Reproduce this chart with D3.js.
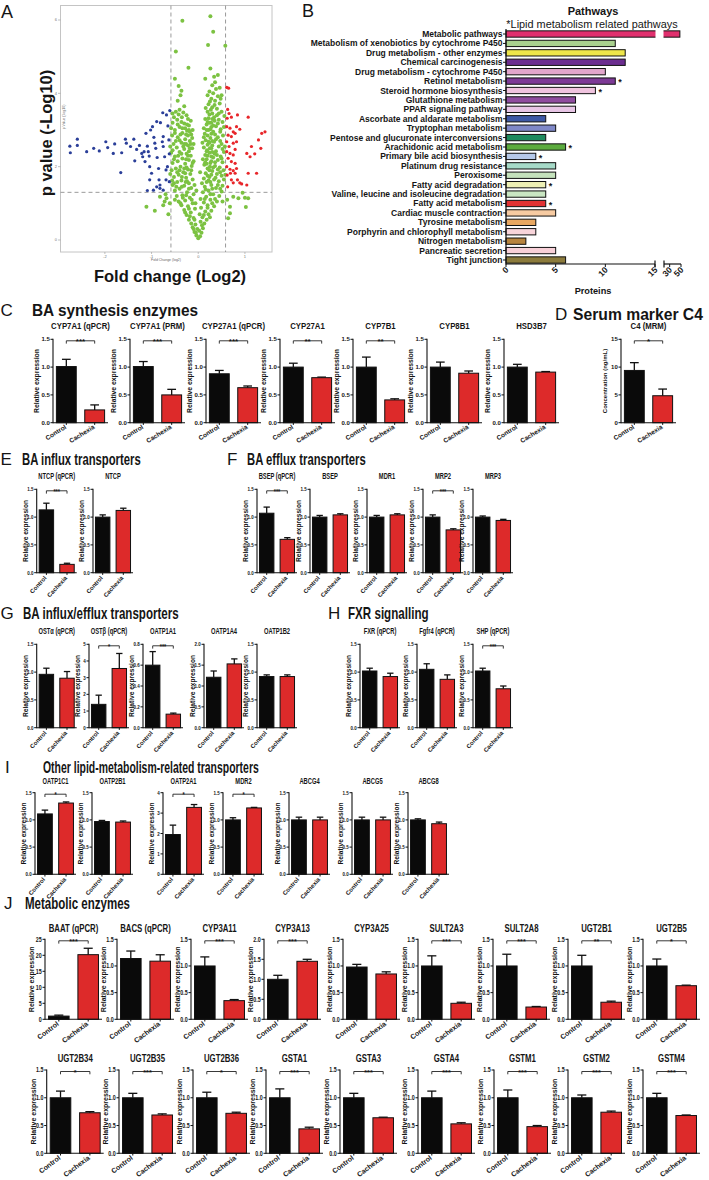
<!DOCTYPE html>
<html><head><meta charset="utf-8">
<script src="https://cdn.jsdelivr.net/npm/d3@7/dist/d3.min.js"></script>
<style>body{margin:0;background:#fff}svg{display:block}text{font-family:"Liberation Sans",Arial,Helvetica,sans-serif;fill:#151515}</style>
</head><body><svg id="fig" width="709" height="1180"></svg>
<script>
// ---------------- DATA ----------------
// Panel A volcano: [log2 fold change, -log10 p]
const volcanoXTicks = [-2, -1, 0, 1];
const volcanoYTicks = [0, 2, 4, 6];
const volcanoBlue = [[-2.75,2.56],[-2.74,2.38],[-2.59,2.75],[-2.59,2.58],[-2.39,2.41],[-2.24,2.5],[-2.12,2.43],[-1.98,2.68],[-1.94,2.52],[-1.79,2.62],[-1.82,2.36],[-1.64,2.38],[-1.66,1.84],[-1.56,2.75],[-1.54,2.64],[-1.45,2.55],[-1.38,2.75],[-1.36,2.16],[-1.32,2.47],[-1.26,2.58],[-1.21,2.36],[-1.19,2.27],[-1.14,2.14],[-1.12,2.91],[-1.09,2.56],[-1.07,2.41],[-1.05,2.29],[-1.04,2.0],[-1.0,1.82],[-0.98,3.09],[-0.95,2.8],[-0.93,2.64],[-0.91,2.5],[-0.88,2.25],[-0.85,1.95],[-0.84,1.64],[-0.82,1.5],[-0.81,3.2],[-0.77,2.68],[-0.75,2.55],[-0.72,2.27],[-0.69,1.91],[-0.68,3.41],[-0.65,3.11],[-0.63,2.73],[-0.62,2.35],[-0.66,2.0],[-0.69,1.64],[-0.75,1.36],[-0.82,1.41],[-0.89,1.45],[-0.96,1.36],[-1.04,1.64],[-1.09,1.35],[-0.76,3.47],[-0.61,3.53],[-0.62,1.59],[-1.02,3.0],[-1.16,2.41],[-0.89,3.23],[-0.75,2.82]];
const volcanoRed = [[0.61,4.16],[0.65,4.14],[0.63,3.56],[0.66,3.45],[0.62,3.32],[0.71,3.35],[0.84,3.41],[1.07,3.35],[0.61,3.09],[0.68,3.05],[0.75,2.95],[0.82,3.09],[0.89,3.02],[0.64,2.86],[0.71,2.82],[0.79,2.91],[0.61,2.68],[0.66,2.55],[0.75,2.64],[0.82,2.68],[0.61,2.41],[0.68,2.36],[0.75,2.32],[0.79,2.47],[0.64,2.23],[0.71,2.14],[0.79,2.09],[0.61,2.0],[0.68,1.93],[0.75,1.89],[0.82,1.95],[0.62,1.77],[0.69,1.82],[0.79,1.82],[0.84,1.64],[0.89,1.56],[1.04,2.36],[1.11,2.27],[1.07,1.82],[1.14,2.55],[1.25,1.82],[1.04,1.5],[0.93,1.53],[0.63,1.45],[0.71,1.64],[0.75,1.56],[1.21,2.35],[1.29,2.73],[1.36,2.91],[1.34,2.5],[1.43,2.95]];
const volcanoGreen = [[0,0.05],[-0.04,0.12],[0.04,0.1],[-0.08,0.22],[0.07,0.2],[-0.02,0.3],[0.1,0.32],[-0.12,0.35],[-0.15,0.45],[0.13,0.45],[-0.06,0.42],[0.05,0.5],[-0.2,0.55],[0.18,0.55],[-0.1,0.6],[0.09,0.62],[-0.25,0.68],[0.22,0.7],[-0.16,0.75],[0.15,0.78],[-0.3,0.82],[0.28,0.8],[-0.07,0.85],[0.06,0.88],[-0.22,0.92],[0.2,0.95],[-0.36,0.95],[0.34,0.92],[-0.12,1.0],[0.12,1.02],[-0.42,1.05],[0.4,1.05],[-0.28,1.08],[0.26,1.1],[-0.18,1.15],[0.17,1.18],[-0.46,1.2],[0.45,1.2],[-0.34,1.22],[0.32,1.25],[-0.1,1.25],[0.1,1.3],[-0.24,1.3],[0.22,1.35],[-0.5,1.35],[0.5,1.32],[-0.4,1.4],[0.38,1.42],[-0.15,1.42],[0.14,1.45],[-0.3,1.48],[0.28,1.5],[-0.55,1.5],[0.52,1.48],[-0.2,1.55],[0.18,1.58],[-0.45,1.58],[0.44,1.6],[-0.36,1.62],[0.34,1.65],[-0.12,1.65],[0.12,1.68],[-0.26,1.7],[0.24,1.72],[-0.52,1.72],[0.5,1.75],[-0.42,1.78],[0.4,1.8],[-0.17,1.8],[0.16,1.82],[-0.32,1.85],[0.3,1.88],[-0.57,1.9],[0.54,1.9],[-0.22,1.92],[0.2,1.95],[-0.48,1.95],[0.46,1.98],[-0.38,2.0],[0.36,2.02],[-0.14,2.02],[0.13,2.05],[-0.28,2.08],[0.26,2.1],[-0.55,2.1],[0.52,2.12],[-0.44,2.15],[0.42,2.18],[-0.2,2.18],[0.18,2.2],[-0.34,2.22],[0.32,2.25],[-0.5,2.28],[0.48,2.28],[-0.16,2.3],[0.15,2.32],[-0.25,2.35],[0.24,2.38],[-0.58,2.38],[0.55,2.4],[-0.4,2.4],[0.38,2.42],[-0.3,2.48],[0.28,2.5],[-0.13,2.5],[0.12,2.52],[-0.46,2.52],[0.44,2.55],[-0.22,2.58],[0.2,2.6],[-0.53,2.62],[0.5,2.62],[-0.36,2.65],[0.34,2.68],[-0.18,2.7],[0.16,2.72],[-0.28,2.75],[0.26,2.78],[-0.44,2.8],[0.42,2.8],[-0.56,2.85],[0.53,2.85],[-0.15,2.88],[0.14,2.9],[-0.34,2.92],[0.32,2.95],[-0.24,2.98],[0.22,3.0],[-0.5,3.0],[0.48,3.02],[-0.4,3.08],[0.38,3.1],[-0.2,3.12],[0.18,3.15],[-0.3,3.18],[0.28,3.2],[-0.55,3.2],[0.52,3.22],[-0.45,3.28],[0.44,3.28],[-0.35,3.35],[0.34,3.35],[-0.25,3.4],[0.24,3.42],[0.2,3.5],[-0.48,3.5],[0.5,3.5],[-0.4,3.55],[0.4,3.58],[0.3,3.62],[-0.3,3.65],[0.22,3.7],[0.46,3.72],[-0.55,3.45],[0.36,3.8],[0.28,3.85],[-0.44,3.8],[0.42,3.92],[0.32,4.0],[0.24,4.05],[0.38,4.12],[-0.38,3.95],[0.46,4.15],[0.3,4.22],[0.36,4.3],
[-0.08,0.55],[0.03,0.7],[-0.33,1.15],[0.36,1.12],[-0.47,1.45],[0.47,1.4],[-0.08,1.5],[0.08,1.55],[-0.35,1.72],[0.37,1.7],[-0.6,1.8],[0.58,1.78],[-0.25,1.98],[0.25,2.0],[-0.43,2.3],[0.4,2.32],[-0.1,2.15],[0.1,2.2],[-0.6,2.55],[0.57,2.55],[-0.32,2.55],[0.3,2.58],[-0.1,2.62],[0.09,2.65],[-0.48,2.7],[0.47,2.7],[-0.22,2.85],[0.2,2.85],[-0.38,2.88],[0.36,2.88],[-0.12,3.0],[0.12,3.05],[-0.58,3.05],[0.55,3.08],[-0.28,3.05],[0.28,3.08],[-0.44,3.15],[0.42,3.18],[-0.16,3.25],[0.15,3.3],[-0.52,3.35],[0.56,3.38],[-0.32,3.48],[0.3,3.45],[0.48,3.85],[0.2,3.95],[-0.5,1.1],[0.52,1.05],[-0.2,0.85],[0.2,0.88],[-0.26,1.22],[0.26,1.25],[-0.56,1.62],[0.55,1.65],[-0.4,1.9],[0.42,1.92],[-0.52,2.2],[0.5,2.22],[-0.2,2.42],[0.19,2.45],[-0.06,1.0],[0.05,1.12],[-0.04,1.35],[0.04,1.85],
[-0.05,0.2],[0.02,0.25],[-0.1,0.3],[0.08,0.4],[-0.18,0.65],[0.12,0.68],[-0.28,0.75],[0.25,0.62],[-0.38,1.0],[0.3,1.0],[-0.14,1.1],[0.14,1.12],[-0.52,1.55],[0.42,1.5],[-0.24,1.6],[0.22,1.62],[-0.45,1.85],[0.47,1.85],[-0.3,1.95],[0.32,1.98],[-0.12,2.1],[0.15,2.12],[-0.36,2.35],[0.35,2.35],[-0.55,2.45],[0.52,2.48],[-0.26,2.62],[0.24,2.65],[-0.4,2.72],[0.38,2.75],[-0.13,2.78],[0.12,2.8],[-0.5,2.92],[0.47,2.95],[-0.2,3.0],[0.26,3.02],[-0.36,3.22],[0.35,3.25],[-0.22,3.3],[0.22,3.32],[-0.42,3.42],[0.44,3.45],[0.27,3.55],[0.35,3.68],[0.16,3.6],[0.5,3.95],[0.25,3.78],[0.4,3.4],[0.18,2.42],[0.2,2.3],[0.28,2.28],[0.3,2.4],[0.25,2.5],[0.22,2.68],[0.3,2.7],[0.28,2.9],[0.18,3.0],[0.32,3.12],[0.24,3.2],[0.3,3.3],[0.2,3.22],[-0.18,2.5],[-0.22,2.3],[-0.26,2.2],[-0.16,2.62],[-0.3,2.62],[-0.26,2.88],[-0.18,2.95],[-0.34,3.05],[-0.24,3.15],[-0.15,1.9],[-0.28,1.82],[0.2,1.75],[0.28,1.78],[0.24,1.9],[0.18,2.08],[0.28,2.15],[0.36,2.12],[0.16,1.38],[0.3,1.4],[-0.2,1.4],[-0.35,1.45],[-0.27,1.58],[0.26,1.58],
[-0.34,5.98],[0.26,6.1],[0.32,5.68],[0.21,5.32],[-0.48,5.14],[-0.21,4.7],[0.58,5.3],[0.26,4.68],[-0.36,4.07],[-0.5,4.4],[0.34,4.45],[0.42,4.5],[-0.42,4.2],[0.15,4.4],
[-1.11,0.91],[-0.93,0.8],[-0.82,1.18],[-0.68,1.14],[-0.61,1.0],[-0.75,0.95],[-0.7,1.25],[0.68,0.91],[0.75,1.18],[0.86,1.14],[1.0,1.15],[1.07,1.14],[0.95,1.29],[0.64,0.59],[0.68,0.73],[0.62,1.1],[-0.64,0.7],[-0.72,1.05],[1.02,0.9]];

// Panel B pathways
const pathwayNames = ["Metabolic pathways","Metabolism of xenobiotics by cytochrome P450","Drug metabolism - other enzymes","Chemical carcinogenesis","Drug metabolism - cytochrome P450","Retinol metabolism","Steroid hormone biosynthesis","Glutathione metabolism","PPAR signaling pathway","Ascorbate and aldarate metabolism","Tryptophan metabolism","Pentose and glucuronate interconversions","Arachidonic acid metabolism","Primary bile acid biosynthesis","Platinum drug resistance","Peroxisome","Fatty acid degradation","Valine, leucine and isoleucine degradation","Fatty acid metabolism","Cardiac muscle contraction","Tyrosine metabolism","Porphyrin and chlorophyll metabolism","Nitrogen metabolism","Pancreatic secretion","Tight junction"];
const pathwayProteins = [48,11,12,12,10,11,9,7,7,4,5,4,6,3,5,5,4,4,4,5,3,3,2,5,6];
const pathwayLipid = [false,false,false,false,false,true,true,false,false,false,false,false,true,true,false,false,true,false,true,false,false,false,false,false,false];
const pathwayTicksA = [0,5,10,15];
const pathwayTicksB = [30,50];

// Panels C–J bar charts
const groups = ["Control","Cachexia"];
const geneNames = ["CYP7A1 (qPCR)","CYP7A1 (PRM)","CYP27A1 (qPCR)","CYP27A1","CYP7B1","CYP8B1","HSD3B7","C4 (MRM)","NTCP (qPCR)","NTCP","BSEP (qPCR)","BSEP","MDR1","MRP2","MRP3","OSTα (qPCR)","OSTβ (qPCR)","OATP1A1","OATP1A4","OATP1B2","FXR (qPCR)","Fgfr4 (qPCR)","SHP (qPCR)","OATP1C1","OATP2B1","OATP2A1","MDR2","ABCG4","ABCG5","ABCG8","BAAT (qPCR)","BACS (qPCR)","CYP3A11","CYP3A13","CYP3A25","SULT2A3","SULT2A8","UGT2B1","UGT2B5","UGT2B34","UGT2B35","UGT2B36","GSTA1","GSTA3","GSTA4","GSTM1","GSTM2","GSTM4"];
const controlMean = [1.01,1.01,0.88,1.00,1.00,1.00,1.00,9.4, 1.13,1.00, 1.07,1.00,1.00,1.00,1.00, 0.96,1.40,0.60,1.21,0.92, 1.02,1.05,1.02, 1.11,0.97,1.95,1.00,1.00,1.00,1.00, 1.0,1.14,1.00,1.00,0.98,1.00,1.00,1.00,1.00, 1.00,1.00,1.00,1.00,1.00,1.00,1.00,1.00,1.00];
const controlSEM = [0.13,0.09,0.06,0.07,0.18,0.09,0.05,1.4, 0.12,0.04, 0.11,0.03,0.03,0.04,0.02, 0.11,0.55,0.13,0.15,0.03, 0.05,0.10,0.05, 0.07,0.02,0.46,0.04,0.05,0.05,0.02, 0.3,0.14,0.17,0.10,0.05,0.19,0.22,0.20,0.13, 0.12,0.08,0.10,0.16,0.08,0.12,0.14,0.05,0.08];
const cachexiaMean = [0.23,0.50,0.63,0.81,0.41,0.89,0.91,4.85, 0.15,1.12, 0.60,1.04,1.04,0.77,0.94, 0.89,3.55,0.13,1.53,0.92, 0.92,0.87,0.70, 1.31,0.96,3.28,1.22,1.00,1.00,0.93, 20.2,1.09,0.35,1.45,0.85,0.30,0.23,0.32,0.63, 0.73,0.69,0.72,0.44,0.64,0.53,0.48,0.74,0.68];
const cachexiaSEM = [0.09,0.10,0.03,0.01,0.02,0.04,0.01,1.2, 0.02,0.04, 0.03,0.02,0.02,0.02,0.02, 0.12,0.90,0.01,0.12,0.03, 0.06,0.08,0.05, 0.02,0.02,0.14,0.01,0.05,0.05,0.03, 2.0,0.12,0.02,0.05,0.04,0.02,0.01,0.02,0.01, 0.02,0.02,0.02,0.03,0.01,0.02,0.02,0.02,0.01];
const significance = ["***","***","***","**","**","","","*", "***","", "***","","","***","", "","*","***","","", "","","***", "*","","*","*","","","", "***","","***","***","","***","***","**","*", "*","***","*","***","***","***","***","***","***"];
const yAxisMax = [1.5,1.5,1.5,1.5,1.5,1.5,1.5,15, 1.5,1.5, 1.5,1.5,1.5,1.5,1.5, 1.5,5,0.8,2.0,1.5, 1.5,1.5,1.5, 1.5,1.5,4,1.5,1.5,1.5,1.5, 25,1.5,1.5,2.0,1.5,1.5,1.5,1.5,1.5, 1.5,1.5,1.5,1.5,1.5,1.5,1.5,1.5,1.5];
const yAxisStep = [0.5,0.5,0.5,0.5,0.5,0.5,0.5,5, 0.5,0.5, 0.5,0.5,0.5,0.5,0.5, 0.5,1,0.2,0.5,0.5, 0.5,0.5,0.5, 0.5,0.5,1,0.5,0.5,0.5,0.5, 5,0.5,0.5,0.5,0.5,0.5,0.5,0.5,0.5, 0.5,0.5,0.5,0.5,0.5,0.5,0.5,0.5,0.5];
const yAxisTitle = geneNames.map((n,i)=> i===7 ? "Concentration (ng/mL)" : "Relative expression");

// ---------------- STYLE / LAYOUT ----------------
const pathwayColors = ["#e0306e","#a9d18e","#eee64a","#6b2d8f","#e2a6cc","#7d3a96","#f0c4df","#8f4d9f","#e8c6e6","#3d59a6","#7f88c8","#1e8a5e","#5cab3e","#b6c9e8","#a6dac8","#c4e2bc","#eef0b4","#c9e6c2","#e23232","#f7cba2","#e9a862","#f8d4da","#b7843e","#f8d0d8","#8c7b3c"];
const groupColors = ["#0a0a0a","#dd2a2a"];
const styles = {
  C:{title:8.2,titleSx:0.95,tick:6,tickSx:1,yt:6.8,ytOff:19,xl:6.5,xlA:32,star:8,starSx:1},
  M:{title:8.5,titleSx:0.68,tick:5.6,tickSx:0.8,yt:6.6,ytOff:13.5,xl:6,xlA:48,star:7.5,starSx:0.75},
  J:{title:10,titleSx:0.78,tick:6.3,tickSx:0.85,yt:7,ytOff:15.5,xl:7,xlA:37,star:8,starSx:0.9}
};
const rows = [
  {genes:[0,1,2,3,4,5,6,7], axes:[53,130,206,280,353,427,504,621], top:339.3, bottom:422.7, width:55, st:"C", titleOff:10},
  {genes:[8,9,10,11,12,13,14], axes:[36.7,93,257,310,367,423,473], top:489.3, bottom:572.7, width:40, st:"M", titleOff:10},
  {genes:[15,16,17,18,19,20,21,22], axes:[36.7,89,143,204,257,360,417,473], top:644.3, bottom:727.7, width:40, st:"M", titleOff:10},
  {genes:[23,24,25,26,27,28,29], axes:[35,92,163,223,289,352,408], top:792.7, bottom:874.3, width:41, st:"M", titleOff:9},
  {genes:[30,31,32,33,34,35,36,37,38], axes:[45,117,191,264,343,418,493,568,643], top:939.3, bottom:1019.3, width:57, st:"J", titleOff:7},
  {genes:[39,40,41,42,43,44,45,46,47], axes:[46.7,119,193,266,340,418,494,568,643], top:1070, bottom:1153.3, width:57, st:"J", titleOff:8.5}
];
const headers = [
  {L:"C", lx:0.5, t:"BA synthesis enzymes", tx:32, y:315.5, sx:0.98},
  {L:"D", lx:555, t:"Serum marker C4", tx:573, y:320, sx:1},
  {L:"E", lx:0.5, t:"BA influx transporters", tx:22, y:465, sx:0.72},
  {L:"F", lx:227, t:"BA efflux transporters", tx:247, y:465, sx:0.72},
  {L:"G", lx:0.5, t:"BA influx/efflux transporters", tx:23, y:619, sx:0.737},
  {L:"H", lx:328, t:"FXR signalling", tx:348, y:619, sx:0.74},
  {L:"I", lx:5, t:"Other lipid-metabolism-related transporters", tx:43, y:773, sx:0.665},
  {L:"J", lx:4, t:"Metabolic enzymes", tx:25, y:909, sx:0.734}
];

// ---------------- HELPERS ----------------
const svg = d3.select("#fig");
function T(p, x, y, s, o) {
  o = o || {};
  let tr = `translate(${x},${y})`;
  if (o.rot) tr += ` rotate(${o.rot})`;
  if (o.sx && o.sx !== 1) tr += ` scale(${o.sx},1)`;
  const t = p.append("text").text(s).attr("transform", tr)
    .attr("font-size", o.size || 10)
    .attr("font-weight", o.bold ? "bold" : "normal")
    .attr("text-anchor", o.anchor || "start");
  if (o.fill) t.style("fill", o.fill);
  return t;
}
function L(p, x1, y1, x2, y2, o) {
  o = o || {};
  const l = p.append("line").attr("x1",x1).attr("y1",y1).attr("x2",x2).attr("y2",y2)
    .attr("stroke", o.color || "#111").attr("stroke-width", o.w || 1);
  if (o.dash) l.attr("stroke-dasharray", o.dash);
  return l;
}

// ---------------- PANEL A ----------------
const gA = svg.append("g");
const xV = d3.scaleLinear().domain([-2.94, 1.58]).range([61, 272]);
const yV = d3.scaleLinear().domain([0, 6]).range([240, 20]);
gA.append("rect").attr("x",60.5).attr("y",5.5).attr("width",211.5).attr("height",246.5)
  .attr("fill","none").attr("stroke","#c4c4c4").attr("stroke-width",1);
volcanoYTicks.forEach(v => { L(gA,58,yV(v),60.5,yV(v),{color:"#999",w:0.6}); T(gA,57,yV(v)+1.3,String(v),{size:4,anchor:"end",fill:"#777"}); });
volcanoXTicks.forEach(v => { L(gA,xV(v),252,xV(v),254,{color:"#999",w:0.6}); T(gA,xV(v),258,String(v),{size:4,anchor:"middle",fill:"#777"}); });
[-0.585, 0.585].forEach(v => L(gA, xV(v), 5.5, xV(v), 252, {color:"#9a9a9a", w:1, dash:"4,3"}));
L(gA, 60.5, yV(1.3), 272, yV(1.3), {color:"#9a9a9a", w:1, dash:"4,3"});
const dots = (arr, c, r) => gA.append("g").selectAll("circle").data(arr).join("circle")
  .attr("cx", d => xV(d[0])).attr("cy", d => yV(d[1])).attr("r", r).attr("fill", c);
dots(volcanoGreen, "#7cc242", 2.0);
dots(volcanoBlue, "#2b3f99", 1.6);
dots(volcanoRed, "#e8262a", 1.6);
T(gA, 51.5, 133, "p value (-Log10)", {size:16.5, bold:true, anchor:"middle", rot:-90});
T(gA, 64.5, 117, "p Value (-log10)", {size:3.5, anchor:"middle", rot:-90, fill:"#666"});
T(gA, 166, 261, "Fold Change (log2)", {size:3.5, anchor:"middle", fill:"#666"});
T(gA, 170, 281.5, "Fold change (Log2)", {size:16.5, bold:true, anchor:"middle"});
T(svg, 1, 18, "A", {size:18});

// ---------------- PANEL B ----------------
const gB = svg.append("g");
const yB = d3.scaleBand().domain(pathwayNames).range([29.3, 264.7]).paddingInner(0.33).paddingOuter(0.165);
const xB1 = d3.scaleLinear().domain([0, 15]).range([506, 655]);
const xB2 = d3.scaleLinear().domain([20, 50]).range([664, 681]);
const xB = v => v <= 15 ? xB1(v) : xB2(v);
const bw = yB.bandwidth();
pathwayNames.forEach((n, i) => {
  const v = pathwayProteins[i], yy = yB(n);
  gB.append("rect").attr("x", xB1(0)).attr("y", yy).attr("width", xB(v) - xB1(0)).attr("height", bw)
    .attr("fill", pathwayColors[i]).attr("stroke", "#111").attr("stroke-width", 1);
  if (v > 15) gB.append("rect").attr("x", xB1(15) + 0.5).attr("y", yy - 1.5).attr("width", xB2(20) - xB1(15) - 1).attr("height", bw + 3).attr("fill", "#fff");
  L(gB, xB1(0) - 3, yy + bw/2, xB1(0), yy + bw/2);
  T(gB, xB1(0) - 3.5, yy + bw/2 + 3, n, {size:8.5, bold:true, anchor:"end"});
  if (pathwayLipid[i]) T(gB, xB(v) + 3, yy + bw/2 + 4.2, "*", {size:9, bold:true});
});
L(gB, xB1(0), 29, xB1(0), 264.5, {w:1.2});
L(gB, xB1(0), 264, xB1(15), 264, {w:1.2});
L(gB, xB2(20), 264, xB2(50), 264, {w:1.2});
L(gB, xB1(15), 260.5, xB1(15), 267.5, {w:1.2});
L(gB, xB2(20), 260.5, xB2(20), 267.5, {w:1.2});
pathwayTicksA.forEach(v => { L(gB, xB1(v), 264, xB1(v), 267); T(gB, xB1(v) + 3, 270.5, String(v), {size:8.5, bold:true, anchor:"end", rot:-45}); });
pathwayTicksB.forEach(v => { L(gB, xB2(v), 264, xB2(v), 267); T(gB, xB2(v) + 3, 270.5, String(v), {size:8.5, bold:true, anchor:"end", rot:-45}); });
T(gB, 593, 294, "Proteins", {size:9.2, bold:true, anchor:"middle"});
T(gB, 593, 15, "Pathways", {size:11, bold:true, anchor:"middle"});
T(gB, 592, 27.5, "*Lipid metabolism related pathways", {size:10.9, anchor:"middle"});
T(svg, 302, 17, "B", {size:18});

// ---------------- HEADERS ----------------
headers.forEach(h => {
  T(svg, h.lx, h.y, h.L, {size:17});
  T(svg, h.tx, h.y, h.t, {size:15.7, bold:true, sx:h.sx});
});

// ---------------- BAR CHARTS ----------------
function fmt(v, step) { return step < 1 ? v.toFixed(1) : String(Math.round(v)); }
function barChart(gi, ax, top, bottom, w, st, titleOff) {
  const g = svg.append("g");
  const s = styles[st];
  const y = d3.scaleLinear().domain([0, yAxisMax[gi]]).range([bottom, top]);
  const x = d3.scaleBand().domain(groups).range([ax, ax + w]).paddingInner(0.3).paddingOuter(0.12);
  const b = x.bandwidth();
  const ticks = d3.range(0, yAxisMax[gi] + yAxisStep[gi] / 2, yAxisStep[gi]);
  const means = [controlMean[gi], cachexiaMean[gi]];
  const sems = [controlSEM[gi], cachexiaSEM[gi]];
  groups.forEach((grp, k) => {
    const cx = x(grp) + b / 2;
    L(g, cx, y(means[k]), cx, y(means[k] + sems[k]), {w:1.3});
    L(g, cx - b * 0.22, y(means[k] + sems[k]), cx + b * 0.22, y(means[k] + sems[k]), {w:1.3});
    g.append("rect").attr("x", x(grp)).attr("y", y(means[k])).attr("width", b).attr("height", bottom - y(means[k]))
      .attr("fill", groupColors[k]).attr("stroke", "#111").attr("stroke-width", 1);
    L(g, cx, bottom, cx, bottom + 2.2);
    T(g, cx + 0.5, bottom + 5.5, grp, {size:s.xl, bold:true, anchor:"end", rot:-s.xlA});
  });
  L(g, ax, bottom + 0.5, ax, top - 0.5, {w:1.1});
  L(g, ax, bottom, ax + w, bottom, {w:1.1});
  ticks.forEach(v => {
    L(g, ax - 2.5, y(v), ax, y(v));
    T(g, ax - 3.2, y(v) + s.tick * 0.36, fmt(v, yAxisStep[gi]), {size:s.tick, bold:true, anchor:"end", sx:s.tickSx});
  });
  if (significance[gi]) {
    const c1 = x(groups[0]) + b / 2, c2 = x(groups[1]) + b / 2, yb = top + 1.5;
    g.append("path").attr("d", `M${c1},${yb + 2.8}V${yb}H${c2}V${yb + 2.8}`).attr("fill", "none").attr("stroke", "#222").attr("stroke-width", 0.9);
    T(g, (c1 + c2) / 2, yb + 3.2, significance[gi], {size:s.star, bold:true, anchor:"middle", sx:s.starSx});
  }
  T(g, ax + w / 2, top - titleOff, geneNames[gi], {size:s.title, bold:true, anchor:"middle", sx:s.titleSx});
  T(g, ax - s.ytOff + s.yt * 0.7, (top + bottom) / 2, yAxisTitle[gi], {size: gi === 7 ? 6 : s.yt, bold:true, anchor:"middle", rot:-90});
}
rows.forEach(r => r.genes.forEach((gi, k) => barChart(gi, r.axes[k], r.top, r.bottom, r.width, r.st, r.titleOff)));
</script></body></html>
